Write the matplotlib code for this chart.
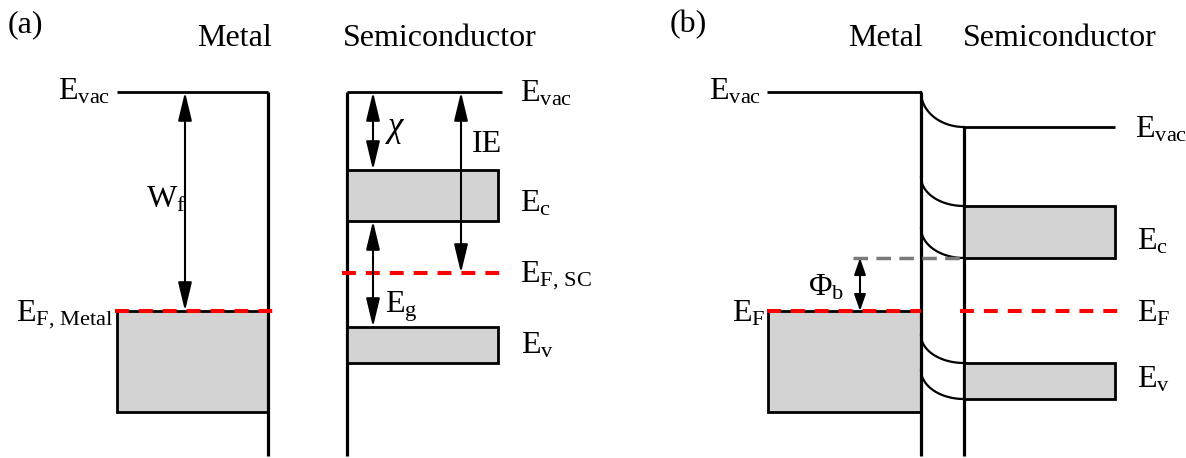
import numpy as np
import matplotlib
matplotlib.use("Agg")
import matplotlib.pyplot as plt
from matplotlib.patches import Rectangle

# ---------------- data (energy levels, diagram units, downward) ----------------
# Panel (a): isolated metal and semiconductor
a_metal_levels = [92, 311, 412]                 # E_vac, E_F, bottom of filled band
a_sc_levels = [92, 170, 221, 273, 327, 363]     # E_vac, Ec top, Ec bottom, E_F, Ev top, Ev bottom
# Panel (b): metal-semiconductor contact
b_metal_levels = [92, 311, 412]                 # E_vac, E_F, bottom of filled band
b_sc_levels = [127, 206, 258, 311, 363, 399]    # E_vac, Ec top, Ec bottom, E_F, Ev top, Ev bottom
b_bend = [35, 29, 30, 28, 29]                   # band bending of E_vac, Ec top, Ec bottom, Ev top, Ev bottom

# ---------------- style ----------------
plt.rcParams["font.family"] = ["Liberation Serif", "DejaVu Serif"]
plt.rcParams["mathtext.fontset"] = "custom"
plt.rcParams["mathtext.rm"] = "Liberation Serif"
plt.rcParams["mathtext.it"] = "Liberation Serif:italic"
plt.rcParams["lines.scale_dashes"] = False

W, H = 1186, 458
fig = plt.figure(figsize=(W / 100, H / 100), dpi=100)
ax = fig.add_axes([0, 0, 1, 1])
ax.set_xlim(0, W)
ax.set_ylim(H, 0)
ax.axis("off")

FS = 23
LW = 2.0
GRAY = "#d3d3d3"
RED = "#ff0000"
BOTTOM = 456


def hline(x0, x1, y, lw=LW, **kw):
    ax.plot([x0, x1], [y, y], color=kw.pop("color", "k"), lw=lw,
            solid_capstyle="butt", **kw)


def vline(x, y0, y1, lw=2.3):
    ax.plot([x, x], [y0, y1], color="k", lw=lw, solid_capstyle="butt")


def dashed(x0, x1, y, color, lw=2.9, on=10, off=7.2):
    ax.plot([x0, x1], [y, y], color=color, lw=lw, dashes=(on, off),
            dash_capstyle="butt", zorder=5)


def band(x0, x1, ytop, ybot):
    ax.add_patch(Rectangle((x0, ytop), x1 - x0, ybot - ytop, fc=GRAY,
                           ec="k", lw=LW, zorder=2))


def darrow(x, y0, y1, hl=1.75, hw=0.42, lw=1.5):
    ax.annotate("", xy=(x, y1), xytext=(x, y0),
                arrowprops=dict(arrowstyle=f"<|-|>,head_length={hl},head_width={hw}",
                                color="k", lw=lw, shrinkA=0, shrinkB=0,
                                mutation_scale=10), zorder=6)


def txt(x, y, s, size=FS):
    ax.text(x, y, s, fontsize=size, ha="left", va="baseline", zorder=7)


# ---------------- panel (a) ----------------
m_vac, m_ef, m_bot = a_metal_levels
s_vac, s_ct, s_cb, s_ef, s_vt, s_vb = a_sc_levels

mx0, mx1 = 117, 268
sx0, sx1 = 347, 498

txt(8, 32, "(a)")
txt(197, 46, "Metal")
txt(343, 46, "Semiconductor")

hline(mx0, mx1, m_vac)
band(mx0, mx1, m_ef, m_bot)
vline(mx1, m_vac, BOTTOM)
dashed(115, 273, m_ef, RED)
darrow(185, m_vac, m_ef)
txt(58, 100, r"$\mathrm{E}_{\mathrm{vac}}$")
txt(146, 207, r"$\mathrm{W}_{\mathrm{f}}$")
txt(16, 321, r"$\mathrm{E}_{\mathrm{F,}\,\mathrm{Metal}}$")

vline(sx0, s_vac, BOTTOM)
hline(sx0, 502, s_vac)
band(sx0, sx1, s_ct, s_cb)
band(sx0, sx1, s_vt, s_vb)
dashed(342, 502, s_ef, RED)
darrow(373, s_vac, s_ct)
darrow(461, s_vac, s_ef)
darrow(373, s_cb, s_vt)
txt(385, 136, r"$\chi$", size=25)
txt(472, 152, "IE")
txt(385, 312, r"$\mathrm{E}_{\mathrm{g}}$")
txt(520, 101, r"$\mathrm{E}_{\mathrm{vac}}$")
txt(520, 212, r"$\mathrm{E}_{\mathrm{c}}$")
txt(520, 282, r"$\mathrm{E}_{\mathrm{F,}\,\mathrm{SC}}$")
txt(521, 353, r"$\mathrm{E}_{\mathrm{v}}$")

# ---------------- panel (b) ----------------
bm_vac, bm_ef, bm_bot = b_metal_levels
bs_vac, bs_ct, bs_cb, bs_ef, bs_vt, bs_vb = b_sc_levels

bmx0, bmx1 = 768, 921
bsx0, bsx1 = 964, 1115

txt(670, 32, "(b)")
txt(848, 46, "Metal")
txt(963, 46, "Semiconductor")

hline(bmx0 - 1, bmx1, bm_vac)
band(bmx0, bmx1, bm_ef, bm_bot)
vline(bmx1, bm_vac, BOTTOM)
dashed(767, 921, bm_ef, RED)

vline(bsx0, bs_vac, BOTTOM)
hline(bsx0, bsx1, bs_vac)
band(bsx0, bsx1, bs_ct, bs_cb)
band(bsx0, bsx1, bs_vt, bs_vb)
dashed(960, 1118, bs_ef, RED)

# band bending curves (quarter ellipses from metal interface to semiconductor)
t = np.linspace(0, np.pi / 2, 60)
for lvl, drop in zip([bs_vac, bs_ct, bs_cb, bs_vt, bs_vb], b_bend):
    xs = bsx0 - (bsx0 - bmx1) * np.cos(t)
    ys = (lvl - drop) + drop * np.sin(t)
    ax.plot(xs, ys, color="k", lw=1.6)

# barrier height
dashed(853, bsx0, bs_cb, "#7a7a7a", lw=2.5, on=10.5, off=6)
darrow(860, bs_cb, bm_ef, hl=1.0, hw=0.35, lw=1.5)
txt(808, 295, r"$\Phi_{\mathrm{b}}$")

txt(709, 99, r"$\mathrm{E}_{\mathrm{vac}}$")
txt(732, 321, r"$\mathrm{E}_{\mathrm{F}}$")
txt(1135, 137, r"$\mathrm{E}_{\mathrm{vac}}$")
txt(1137, 250, r"$\mathrm{E}_{\mathrm{c}}$")
txt(1137, 322, r"$\mathrm{E}_{\mathrm{F}}$")
txt(1137, 387, r"$\mathrm{E}_{\mathrm{v}}$")

fig.savefig("out.png", dpi=100, facecolor="white")
